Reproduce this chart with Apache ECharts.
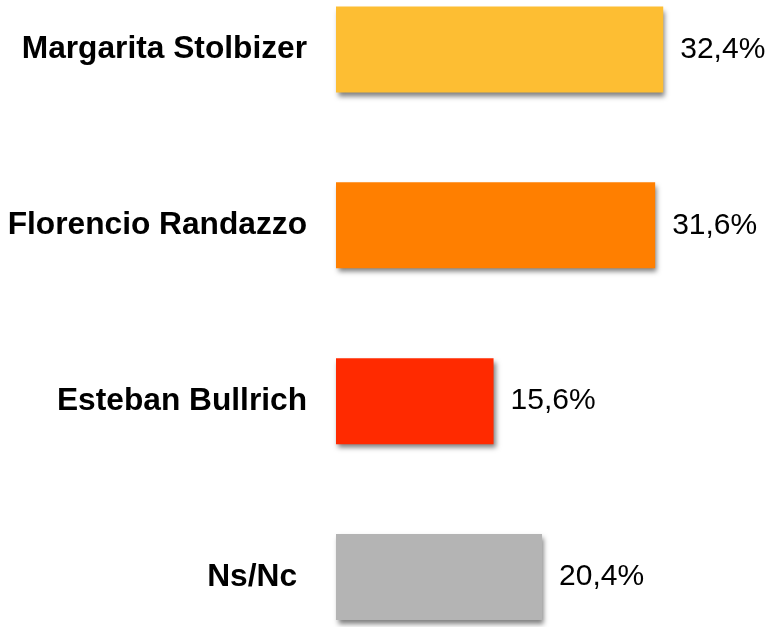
<!DOCTYPE html>
<html>
<head>
<meta charset="utf-8">
<script src="https://cdn.jsdelivr.net/npm/echarts@6/dist/echarts.min.js"></script>
<style>
  html, body { margin: 0; padding: 0; background: #fff; }
  #chart { width: 777px; height: 627px; }
</style>
</head>
<body>
<div id="chart"></div>
<script>
// candidates, top to bottom
var candidates = ['Margarita Stolbizer', 'Florencio Randazzo', 'Esteban Bullrich', 'Ns/Nc'];
var percents = [32.4, 31.6, 15.6, 20.4];
var barColors = ['#FDBE33', '#FF7F00', '#FF2A00', '#B4B4B4'];

var chart = echarts.init(document.getElementById('chart'));

chart.setOption({
    animation: false,
    grid: { left: 336, right: 37, top: 49.5, bottom: 50, outerBoundsMode: 'none' },
    xAxis: {
        type: 'value',
        min: 0,
        max: 40,
        show: false
    },
    yAxis: {
        type: 'category',
        boundaryGap: false,
        data: candidates.map(function (c) {
            // the last label sits a bit left of the others in the original
            return c === 'Ns/Nc' ? { value: c, textStyle: { padding: [0, 10, 0, 0] } } : c;
        }),
        inverse: true,
        axisLine: { show: false },
        axisTick: { show: false },
        splitLine: { show: false },
        axisLabel: {
            margin: 29,
            color: '#000',
            fontFamily: 'Liberation Sans, Arial, sans-serif',
            fontWeight: 'bold',
            fontSize: 31.7
        }
    },
    series: [{
        type: 'bar',
        barWidth: 86,
        clip: false,
        data: percents.map(function (v, i) {
            return { value: v, itemStyle: { color: barColors[i] } };
        }),
        itemStyle: {
            shadowColor: 'rgba(0,0,0,0.5)',
            shadowBlur: 5,
            shadowOffsetX: 2,
            shadowOffsetY: 4
        },
        label: {
            show: true,
            position: 'right',
            distance: 17,
            color: '#000',
            fontFamily: 'Liberation Sans, Arial, sans-serif',
            fontSize: 30,
            formatter: function (p) {
                return p.value.toFixed(1).replace('.', ',') + '%';
            }
        }
    }]
});
</script>
</body>
</html>
